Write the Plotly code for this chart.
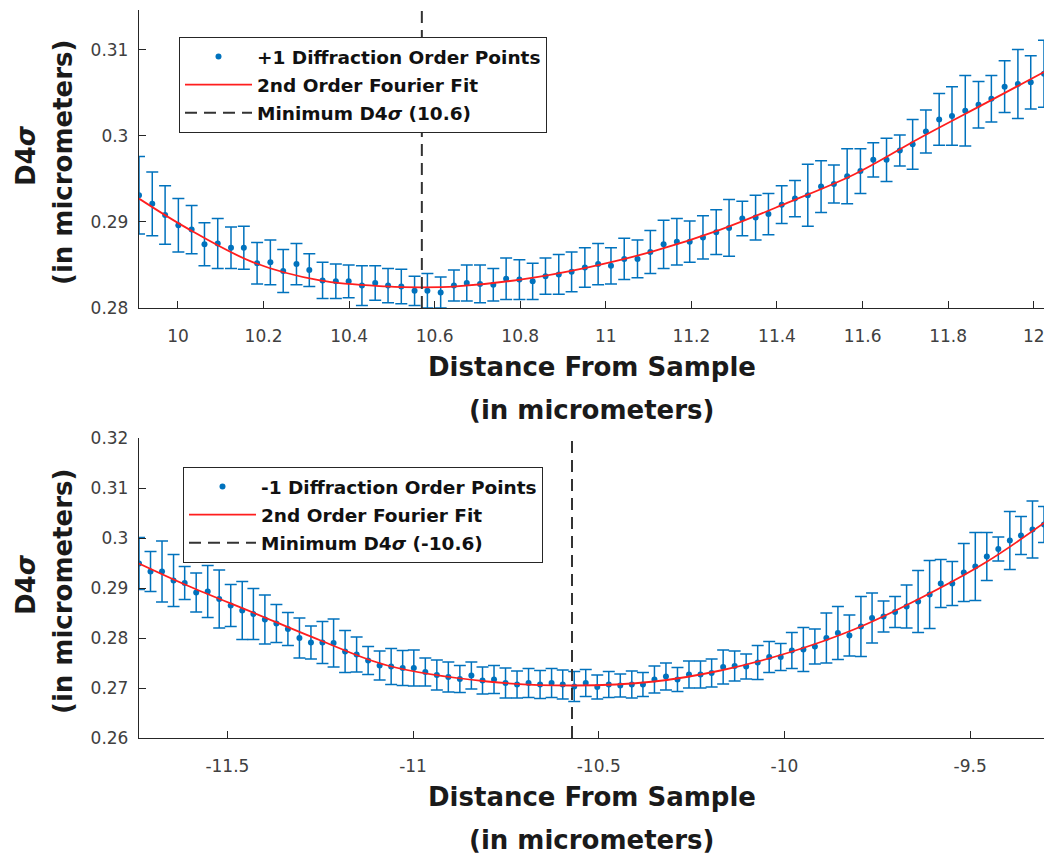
import plotly.graph_objects as go

# ---------------- data ----------------
# +1 diffraction order (top panel)
x_top = [9.909, 9.940, 9.970, 10.001, 10.032, 10.062, 10.093, 10.124, 10.154, 10.185,
         10.216, 10.246, 10.277, 10.307, 10.338, 10.369, 10.399, 10.430, 10.461, 10.491,
         10.522, 10.553, 10.583, 10.614, 10.645, 10.675, 10.706, 10.737, 10.767, 10.798,
         10.829, 10.859, 10.890, 10.920, 10.951, 10.982, 11.012, 11.043, 11.074, 11.104,
         11.135, 11.166, 11.196, 11.227, 11.258, 11.288, 11.319, 11.350, 11.380, 11.411,
         11.442, 11.472, 11.503, 11.533, 11.564, 11.595, 11.625, 11.656, 11.687, 11.717,
         11.748, 11.779, 11.809, 11.840, 11.871, 11.901, 11.932, 11.963, 11.993, 12.024]
y_top = [0.2931, 0.2921, 0.2908, 0.2896, 0.2891, 0.2874, 0.2875, 0.2870, 0.2870, 0.2852,
         0.2853, 0.2843, 0.2851, 0.2844, 0.2832, 0.2831, 0.2831, 0.2826, 0.2829, 0.2826,
         0.2825, 0.2820, 0.2820, 0.2818, 0.2826, 0.2829, 0.2828, 0.2827, 0.2834, 0.2833,
         0.2831, 0.2837, 0.2839, 0.2842, 0.2847, 0.2851, 0.2849, 0.2857, 0.2857, 0.2865,
         0.2874, 0.2877, 0.2877, 0.2882, 0.2888, 0.2893, 0.2904, 0.2905, 0.2909, 0.2920,
         0.2927, 0.2931, 0.2941, 0.2944, 0.2953, 0.2959, 0.2972, 0.2972, 0.2983, 0.2990,
         0.3005, 0.3019, 0.3023, 0.3029, 0.3036, 0.3043, 0.3057, 0.3060, 0.3062, 0.3072]
err_top = [0.0045, 0.0037, 0.0034, 0.0031, 0.0028, 0.0025, 0.0029, 0.0024, 0.0025, 0.0024,
           0.0026, 0.0025, 0.0024, 0.0019, 0.0021, 0.0020, 0.0019, 0.0023, 0.0020, 0.0020,
           0.0020, 0.0017, 0.0020, 0.0018, 0.0018, 0.0021, 0.0022, 0.0019, 0.0024, 0.0023,
           0.0021, 0.0021, 0.0023, 0.0023, 0.0023, 0.0024, 0.0021, 0.0024, 0.0022, 0.0025,
           0.0028, 0.0027, 0.0024, 0.0025, 0.0026, 0.0033, 0.0020, 0.0026, 0.0024, 0.0022,
           0.0021, 0.0036, 0.0030, 0.0022, 0.0032, 0.0026, 0.0020, 0.0025, 0.0018, 0.0029,
           0.0025, 0.0030, 0.0034, 0.0041, 0.0027, 0.0027, 0.0030, 0.0040, 0.0031, 0.0039]
fit_x_top = [9.909, 10.020, 10.176, 10.332, 10.488, 10.570, 10.650, 10.800, 10.956,
             11.112, 11.268, 11.424, 11.580, 11.736, 11.892, 12.024]
fit_y_top = [0.2927, 0.2893, 0.2853, 0.2832, 0.2825, 0.2824, 0.2825, 0.2833, 0.2847,
             0.2866, 0.2891, 0.2922, 0.2955, 0.2998, 0.3039, 0.3074]
min_top = 10.57
yrange_top = [0.28, 0.3146]
xticks_top = [10, 10.2, 10.4, 10.6, 10.8, 11, 11.2, 11.4, 11.6, 11.8, 12]
xticktext_top = ["10", "10.2", "10.4", "10.6", "10.8", "11", "11.2", "11.4", "11.6", "11.8", "12"]
yticks_top = [0.28, 0.29, 0.30, 0.31]
yticktext_top = ["0.28", "0.29", "0.3", "0.31"]

# -1 diffraction order (bottom panel)
x_bot = [-11.738, -11.707, -11.676, -11.645, -11.615, -11.584, -11.553, -11.522, -11.491, -11.460,
         -11.430, -11.399, -11.368, -11.337, -11.306, -11.275, -11.244, -11.214, -11.183, -11.152,
         -11.121, -11.090, -11.059, -11.028, -10.998, -10.967, -10.936, -10.905, -10.874, -10.843,
         -10.813, -10.782, -10.751, -10.720, -10.689, -10.658, -10.627, -10.597, -10.566, -10.535,
         -10.504, -10.473, -10.442, -10.411, -10.381, -10.350, -10.319, -10.288, -10.257, -10.226,
         -10.196, -10.165, -10.134, -10.103, -10.072, -10.041, -10.010, -9.980, -9.949, -9.918,
         -9.887, -9.856, -9.825, -9.794, -9.764, -9.733, -9.702, -9.671, -9.640, -9.609,
         -9.579, -9.548, -9.517, -9.486, -9.455, -9.424, -9.393, -9.363, -9.332, -9.301]
y_bot = [0.2949, 0.2933, 0.2933, 0.2915, 0.2910, 0.2891, 0.2893, 0.2878, 0.2865, 0.2855,
         0.2848, 0.2837, 0.2829, 0.2818, 0.2800, 0.2791, 0.2791, 0.2790, 0.2773, 0.2767,
         0.2755, 0.2745, 0.2743, 0.2740, 0.2740, 0.2732, 0.2726, 0.2722, 0.2718, 0.2725,
         0.2715, 0.2717, 0.2710, 0.2707, 0.2710, 0.2707, 0.2710, 0.2707, 0.2703, 0.2710,
         0.2702, 0.2707, 0.2705, 0.2707, 0.2707, 0.2717, 0.2723, 0.2717, 0.2727, 0.2727,
         0.2730, 0.2742, 0.2744, 0.2743, 0.2751, 0.2762, 0.2762, 0.2775, 0.2777, 0.2783,
         0.2800, 0.2810, 0.2805, 0.2823, 0.2840, 0.2843, 0.2852, 0.2863, 0.2873, 0.2887,
         0.2909, 0.2909, 0.2931, 0.2943, 0.2963, 0.2978, 0.2995, 0.3005, 0.3017, 0.3027]
err_bot = [0.0052, 0.0040, 0.0061, 0.0052, 0.0033, 0.0039, 0.0052, 0.0058, 0.0042, 0.0058,
           0.0051, 0.0049, 0.0038, 0.0033, 0.0040, 0.0033, 0.0042, 0.0048, 0.0042, 0.0035,
           0.0028, 0.0029, 0.0036, 0.0035, 0.0036, 0.0028, 0.0030, 0.0030, 0.0027, 0.0027,
           0.0027, 0.0028, 0.0030, 0.0027, 0.0029, 0.0028, 0.0029, 0.0029, 0.0030, 0.0027,
           0.0024, 0.0026, 0.0023, 0.0027, 0.0024, 0.0027, 0.0027, 0.0024, 0.0027, 0.0027,
           0.0028, 0.0034, 0.0030, 0.0025, 0.0034, 0.0031, 0.0027, 0.0036, 0.0044, 0.0035,
           0.0050, 0.0053, 0.0041, 0.0060, 0.0050, 0.0031, 0.0031, 0.0043, 0.0062, 0.0068,
           0.0048, 0.0044, 0.0058, 0.0068, 0.0048, 0.0024, 0.0058, 0.0038, 0.0057, 0.0036]
fit_x_bot = [-11.738, -11.608, -11.428, -11.249, -11.069, -10.800, -10.567, -10.351,
             -10.172, -9.992, -9.813, -9.633, -9.454, -9.301]
fit_y_bot = [0.2949, 0.2905, 0.2850, 0.2795, 0.2745, 0.2713, 0.2705, 0.2713,
             0.2735, 0.2770, 0.2817, 0.2880, 0.2953, 0.3030]
min_bot = -10.572
yrange_bot = [0.26, 0.32]
xticks_bot = [-11.5, -11, -10.5, -10, -9.5]
xticktext_bot = ["-11.5", "-11", "-10.5", "-10", "-9.5"]
yticks_bot = [0.26, 0.27, 0.28, 0.29, 0.30, 0.31, 0.32]
yticktext_bot = ["0.26", "0.27", "0.28", "0.29", "0.3", "0.31", "0.32"]

# ---------------- styling ----------------
W, H = 1045, 854
BLUE = "#0072BD"
RED = "rgb(255,30,30)"
AXC = "#262626"
TICKC = "#404040"
FONT = "DejaVu Sans"


def fx(p):
    return p / W


def fy(p):
    return 1 - p / H


fig = go.Figure()

# top panel
fig.add_trace(go.Scatter(
    x=x_top, y=y_top, mode="markers", name="+1 Diffraction Order Points",
    marker=dict(color=BLUE, size=6),
    error_y=dict(type="data", array=err_top, color=BLUE, thickness=1.5, width=6),
    xaxis="x", yaxis="y", legend="legend", legendgroup="a1"))
fig.add_trace(go.Scatter(
    x=fit_x_top, y=fit_y_top, mode="lines", name="2nd Order Fourier Fit",
    line=dict(color=RED, width=1.8, shape="spline", smoothing=1),
    xaxis="x", yaxis="y", legend="legend", legendgroup="a2"))
fig.add_trace(go.Scatter(
    x=[min_top, min_top], y=yrange_top, mode="lines",
    name=f"Minimum D4<i>σ</i> ({min_top:.1f})",
    line=dict(color="#333333", width=2, dash="12px,7px"),
    xaxis="x", yaxis="y", legend="legend", legendgroup="a3"))

# bottom panel
fig.add_trace(go.Scatter(
    x=x_bot, y=y_bot, mode="markers", name="-1 Diffraction Order Points",
    marker=dict(color=BLUE, size=6),
    error_y=dict(type="data", array=err_bot, color=BLUE, thickness=1.5, width=6),
    xaxis="x2", yaxis="y2", legend="legend2", legendgroup="b1"))
fig.add_trace(go.Scatter(
    x=fit_x_bot, y=fit_y_bot, mode="lines", name="2nd Order Fourier Fit",
    line=dict(color=RED, width=1.8, shape="spline", smoothing=1),
    xaxis="x2", yaxis="y2", legend="legend2", legendgroup="b2"))
fig.add_trace(go.Scatter(
    x=[min_bot, min_bot], y=yrange_bot, mode="lines",
    name=f"Minimum D4<i>σ</i> ({min_bot:.1f})",
    line=dict(color="#333333", width=2, dash="12px,7px"),
    xaxis="x2", yaxis="y2", legend="legend2", legendgroup="b3"))

axis_common = dict(
    showgrid=False, zeroline=False, showline=True, linecolor=AXC, linewidth=1.3,
    ticks="inside", ticklen=7, tickwidth=1.3, tickcolor=AXC, automargin=False,
    tickfont=dict(family=FONT, size=17, color=TICKC), mirror=False,
)

legend_common = dict(
    xanchor="left", yanchor="top", bgcolor="white",
    bordercolor=AXC, borderwidth=1, traceorder="grouped", tracegroupgap=1,
    itemwidth=67, font=dict(family=FONT, size=18.5, color="#111111", weight="bold"),
)

fig.update_layout(
    width=W, height=H, paper_bgcolor="white", plot_bgcolor="white",
    margin=dict(l=0, r=0, t=0, b=0, pad=0, autoexpand=False), showlegend=True,
    xaxis=dict(domain=[fx(139), fx(1044)], range=[x_top[0], x_top[-1]], anchor="y",
               tickvals=xticks_top, ticktext=xticktext_top, ticklabelstandoff=12, **axis_common),
    yaxis=dict(domain=[fy(308), fy(10)], range=yrange_top, anchor="x",
               tickvals=yticks_top, ticktext=yticktext_top, ticklabelstandoff=6, **axis_common),
    xaxis2=dict(domain=[fx(139), fx(1044)], range=[x_bot[0], x_bot[-1]], anchor="y2",
                tickvals=xticks_bot, ticktext=xticktext_bot, ticklabelstandoff=12, **axis_common),
    yaxis2=dict(domain=[fy(738), fy(438)], range=yrange_bot, anchor="x2",
                tickvals=yticks_bot, ticktext=yticktext_bot, ticklabelstandoff=6, **axis_common),
    legend=dict(x=fx(179), y=fy(37), **legend_common),
    legend2=dict(x=fx(183), y=fy(467), **legend_common),
)

title_font = dict(family=FONT, size=26, color="#1a1a1a", weight="bold")
annots = []
for (line1_y, line2_y) in [(367, 410), (797, 840)]:
    annots.append(dict(text="Distance From Sample", x=fx(591.5), y=fy(line1_y),
                       xref="paper", yref="paper", showarrow=False, font=title_font,
                       xanchor="center", yanchor="middle"))
    annots.append(dict(text="(in micrometers)", x=fx(591.5), y=fy(line2_y),
                       xref="paper", yref="paper", showarrow=False, font=title_font,
                       xanchor="center", yanchor="middle"))
for cy in [159, 588]:
    annots.append(dict(text="D4<i>σ</i>", x=fx(26), y=fy(cy - 3), xref="paper", yref="paper",
                       showarrow=False, font=title_font, textangle=-90,
                       xanchor="center", yanchor="middle"))
    annots.append(dict(text="(in micrometers)", x=fx(63), y=fy(cy + 4), xref="paper", yref="paper",
                       showarrow=False, font=title_font, textangle=-90,
                       xanchor="center", yanchor="middle"))
fig.update_layout(annotations=annots)

fig.write_html(
    "out.html",
    config={"displayModeBar": False},
    post_script="document.body.style.margin='0px';document.body.style.overflow='hidden';",
)
